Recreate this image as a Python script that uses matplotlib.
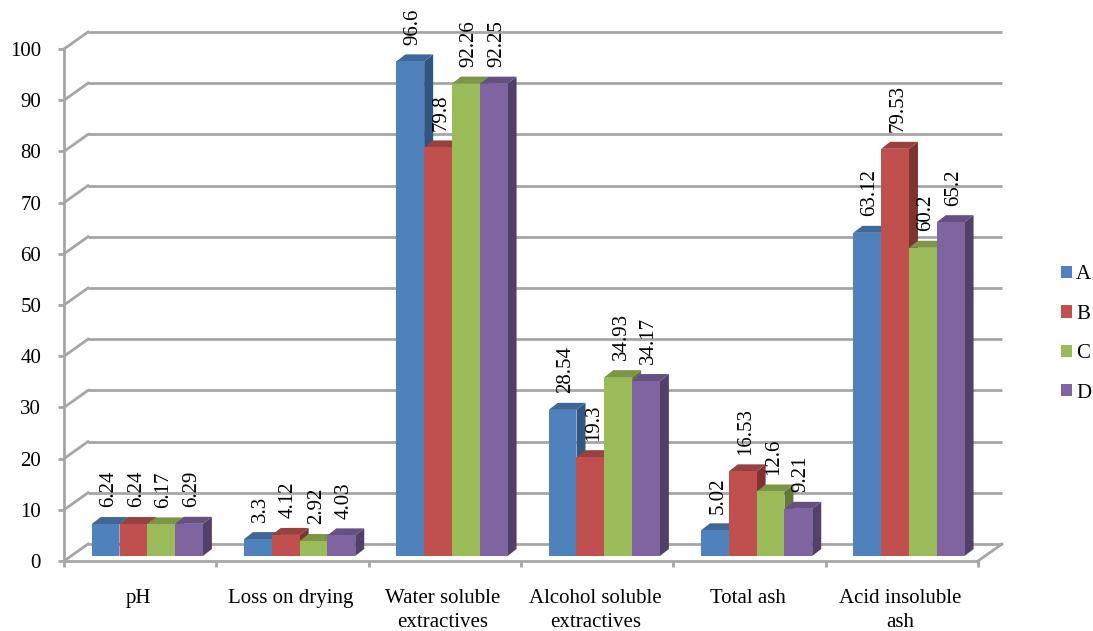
import matplotlib
matplotlib.use("Agg")
import matplotlib.pyplot as plt
from matplotlib.patches import Patch, Polygon

plt.rcParams['font.family'] = ['Liberation Serif', 'DejaVu Serif']

categories = ["pH", "Loss on drying", "Water soluble\nextractives",
              "Alcohol soluble\nextractives", "Total ash", "Acid insoluble\nash"]
series_names = ["A", "B", "C", "D"]
series_a = [6.24, 3.3, 96.6, 28.54, 5.02, 63.12]
series_b = [6.24, 4.12, 79.8, 19.3, 16.53, 79.53]
series_c = [6.17, 2.92, 92.26, 34.93, 12.6, 60.2]
series_d = [6.29, 4.03, 92.25, 34.17, 9.21, 65.2]
all_series = [series_a, series_b, series_c, series_d]
y_ticks = list(range(0, 101, 10))

front_colors = ["#4F81BD", "#C0504D", "#9BBB59", "#8064A2"]
top_colors = ["#3F6797", "#994040", "#7C9547", "#665082"]
side_colors = ["#325682", "#7F3331", "#64783A", "#533F6C"]
GRID = "#A6A6A6"
FS = 15

W, H = 1093, 631
fig = plt.figure(figsize=(W / 100, H / 100), dpi=100)
ax = fig.add_axes([64 / W, (H - 561) / H, (978 - 64) / W, (561 - 49) / H])
ax.set_xlim(0, 6)
ax.set_ylim(0, 100)

# pixel sizes of the oblique projection, expressed in data units
px_x = 6 / (978 - 64)
px_y = 100 / (561 - 49)
wall_dx, wall_dy = 24 * px_x, 17 * px_y
depth_dx, depth_dy = 9 * px_x, 7 * px_y
base = 5 * px_y
bar_w = 27.8 * px_x
bar_start = 27.7 * px_x

# floor edges, back wall gridlines and their diagonal returns
for t in y_ticks:
    ax.plot([wall_dx, 6 + wall_dx], [t + wall_dy] * 2, color=GRID, lw=2, clip_on=False, zorder=1,
            solid_capstyle="butt")
    ax.plot([0, wall_dx], [t, t + wall_dy], color=GRID, lw=2, clip_on=False, zorder=1)
ax.plot([6, 6 + wall_dx], [0, wall_dy], color=GRID, lw=2, clip_on=False, zorder=1)

# bars, painted left to right so that each front face hides its neighbour's side
for g in range(len(categories)):
    for s, values in enumerate(all_series):
        v = values[g]
        x0 = g + bar_start + s * bar_w
        x1 = x0 + bar_w
        top = base + v
        z = 2 + g + s * 0.1
        ax.add_patch(Polygon([(x1, base), (x1 + depth_dx, base + depth_dy),
                              (x1 + depth_dx, top + depth_dy), (x1, top)],
                             fc=side_colors[s], ec="none", clip_on=False, zorder=z))
        ax.add_patch(Polygon([(x0, top), (x0 + depth_dx, top + depth_dy),
                              (x1 + depth_dx, top + depth_dy), (x1, top)],
                             fc=top_colors[s], ec="none", clip_on=False, zorder=z))
        ax.bar(x0, v, width=bar_w, bottom=base, align="edge", color=front_colors[s],
               clip_on=False, zorder=z + 0.01)
        ax.annotate(f"{v:g}", (x0 + bar_w / 2, top), xytext=(2, 12), textcoords="offset points",
                    rotation=90, ha="center", va="bottom", fontsize=FS, color="black",
                    annotation_clip=False, zorder=20)

# axes
for name in ("top", "right"):
    ax.spines[name].set_visible(False)
for name in ("left", "bottom"):
    ax.spines[name].set_color(GRID)
    ax.spines[name].set_linewidth(2)
    ax.spines[name].set_zorder(1.5)
ax.set_yticks(y_ticks)
ax.set_xticks(range(7))
ax.set_xticklabels([])
ax.set_xticks([i + 0.5 - 2 * px_x for i in range(6)], labels=categories, minor=True)
ax.tick_params(axis="x", which="major", length=4.5, width=2, color=GRID)
ax.tick_params(axis="x", which="minor", length=0, pad=20.5, labelsize=FS, labelcolor="black")
ax.tick_params(axis="y", length=4.5, width=2, color=GRID, pad=12, labelsize=FS, labelcolor="black")
for lab in ax.get_xticklabels(minor=True):
    lab.set_linespacing(1.3)

handles = [Patch(fc=c, ec="none") for c in front_colors]
fig.legend(handles, series_names, loc="center left", bbox_to_anchor=(1061 / W, (H - 334) / H),
           frameon=False, fontsize=FS, handlelength=0.53, handleheight=0.53,
           handletextpad=0.2, labelspacing=0.98, borderpad=0, borderaxespad=0)

fig.savefig("out.png", dpi=100)
